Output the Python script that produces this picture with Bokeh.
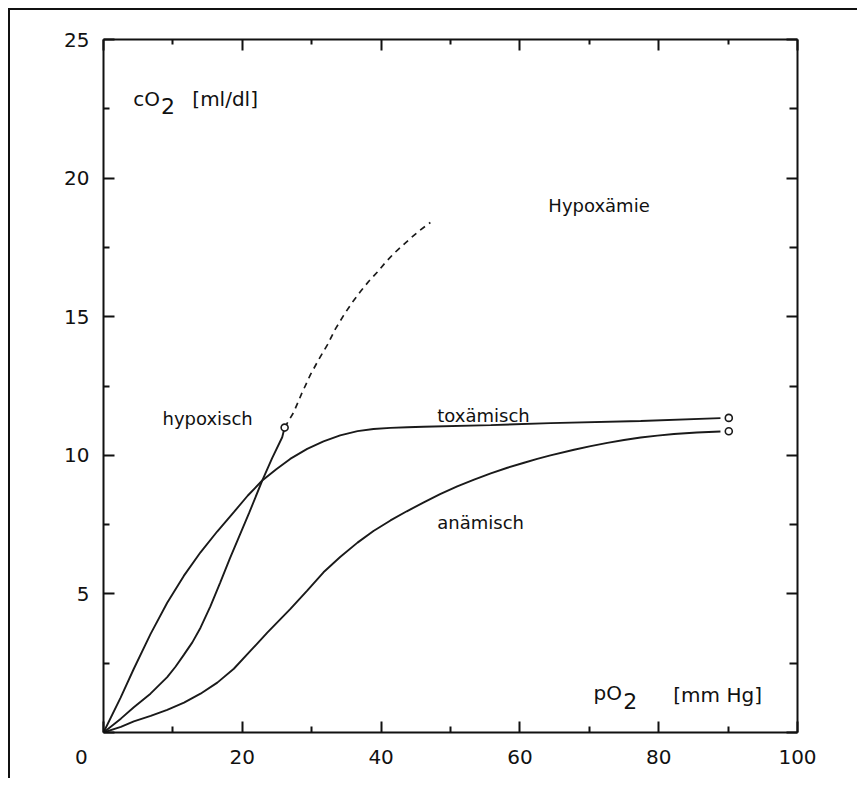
from bokeh.plotting import figure
from bokeh.models import Range1d, FixedTicker, LinearAxis
from bokeh.core.properties import value
from bokeh.embed import file_html
from bokeh.resources import INLINE

# ---- data ----
x_ticks = [0, 20, 40, 60, 80, 100]
x_minor = [10, 30, 50, 70, 90]
y_ticks = [0, 5, 10, 15, 20, 25]
y_minor = [2.5, 7.5, 12.5, 17.5, 22.5]

hyp_x = [0, 2.5, 4.37, 6.77, 9.18, 10.4, 11.57, 12.8, 13.98, 15.4, 16.8, 18.2, 19.6,
         21.0, 22.87, 24.3, 25.75, 26.1]
hyp_y = [0, 0.5, 0.91, 1.40, 2.0, 2.38, 2.8, 3.25, 3.78, 4.55, 5.4, 6.27, 7.1,
         7.93, 9.09, 9.9, 10.65, 11.0]

hyp_dash_x = [26.1, 27.4, 28.6, 29.8, 31.0, 32.3, 33.4, 34.6, 35.8, 37.0, 38.2,
              39.5, 40.6, 41.8, 43.0, 44.2, 45.6, 47.1]
hyp_dash_y = [11.0, 11.55, 12.25, 12.9, 13.45, 14.0, 14.55, 15.05, 15.5, 15.9, 16.27,
              16.62, 16.95, 17.27, 17.55, 17.82, 18.12, 18.4]

tox_x = [0, 2.45, 4.37, 6.77, 9.18, 11.57, 13.98, 16.38, 18.78, 20.8, 22.87, 24.9,
         26.9, 29.35, 31.7, 34.1, 36.6, 38.9, 41.35, 43.8, 46.1, 55.8, 64.4, 77.4, 88.9]
tox_y = [0, 1.25, 2.3, 3.55, 4.68, 5.65, 6.5, 7.25, 7.95, 8.55, 9.09, 9.5,
         9.87, 10.23, 10.5, 10.72, 10.87, 10.95, 10.99, 11.01, 11.03, 11.09, 11.16,
         11.24, 11.34]

ana_x = [0, 2.5, 4.37, 6.8, 9.18, 11.6, 13.98, 16.4, 18.78, 21.2, 23.6, 26.9, 29.35,
         31.7, 34.1, 36.6, 38.9, 41.35, 43.7, 46.15, 48.5, 50.97, 53.4, 55.8, 58.2,
         60.6, 62.5, 64.4, 67.8, 70.2, 72.6, 75.0, 77.4, 79.8, 82.2, 85.5, 88.9]
ana_y = [0, 0.2, 0.40, 0.6, 0.82, 1.08, 1.40, 1.80, 2.3, 2.95, 3.6, 4.45, 5.12,
         5.78, 6.33, 6.85, 7.27, 7.65, 7.98, 8.3, 8.6, 8.88, 9.12, 9.35, 9.55,
         9.73, 9.87, 10.0, 10.2, 10.33, 10.45, 10.55, 10.64, 10.71, 10.77, 10.82, 10.86]

end_x = [26.1, 90.1, 90.1]
end_y = [11.0, 11.35, 10.87]

FONT = "DejaVu Sans"
INK = "#111111"

p = figure(width=849, height=770, output_backend="svg", toolbar_location=None,
           x_range=Range1d(0, 100), y_range=Range1d(0, 25),
           min_border_left=93, min_border_right=62, min_border_top=29,
           min_border_bottom=48)
p.styles = {"margin-left": "8px", "margin-top": "8px",
            "border-left": "2px solid #111111", "border-top": "2px solid #111111"}
p.grid.visible = False
p.outline_line_color = None
p.background_fill_color = "white"
p.border_fill_color = "white"

def style_axis(ax, labels=True):
    ax.axis_line_width = 2
    ax.axis_line_color = INK
    ax.major_tick_in = 11
    ax.major_tick_out = 0
    ax.minor_tick_in = 6
    ax.minor_tick_out = 0
    ax.major_tick_line_width = 2
    ax.minor_tick_line_width = 2
    ax.major_tick_line_color = INK
    ax.minor_tick_line_color = INK
    ax.major_label_text_font = FONT
    ax.major_label_text_font_size = "20px"
    ax.major_label_text_color = INK if labels else None
    ax.major_label_standoff = 14

p.xaxis.ticker = FixedTicker(ticks=x_ticks, minor_ticks=x_minor)
p.yaxis.ticker = FixedTicker(ticks=y_ticks, minor_ticks=y_minor)
# the shared origin "0" sits below-left of the corner: pad it with
# non-breaking spaces so the centred label lands left of the frame
p.xaxis.major_label_overrides = {0: "0" + "\u00a0" * 7}
p.yaxis.major_label_overrides = {0: ""}
style_axis(p.xaxis[0])
style_axis(p.yaxis[0])
p.xaxis.major_label_standoff = 12

top = LinearAxis(ticker=FixedTicker(ticks=x_ticks, minor_ticks=x_minor))
style_axis(top, labels=False)
top.minor_tick_in = 5
p.add_layout(top, "above")
right = LinearAxis(ticker=FixedTicker(ticks=y_ticks, minor_ticks=y_minor))
style_axis(right, labels=False)
right.minor_tick_in = 8
p.add_layout(right, "right")

lc = "#1a1a1a"
p.line(hyp_x, hyp_y, line_width=1.9, line_color=lc)
p.line(hyp_dash_x, hyp_dash_y, line_width=1.7, line_color=lc, line_dash="6 5")
p.line(tox_x, tox_y, line_width=1.9, line_color=lc)
p.line(ana_x, ana_y, line_width=1.9, line_color=lc)
p.scatter(end_x, end_y, marker="circle", size=7, fill_color="white",
          line_color=lc, line_width=1.6)

def txt(x, y, s, size):
    p.text(x=[x], y=[y], text=[s], text_font=value(FONT), text_font_size=size,
           text_color=INK, text_baseline="alphabetic", text_align="left")

txt(8.5, 11.33, "hypoxisch", "18px")
txt(48.1, 11.44, "toxämisch", "18px")
txt(48.1, 7.58, "anämisch", "18px")
txt(64.1, 19.01, "Hypoxämie", "18px")

txt(4.3, 22.87, "cO", "20px")
txt(8.3, 22.6, "2", "22px")
txt(12.8, 22.87, "[ml/dl]", "20px")
txt(70.6, 1.41, "pO", "20px")
txt(74.9, 1.15, "2", "22px")
txt(82.1, 1.37, "[mm Hg]", "20px")

open("out.html", "w").write(file_html(p, INLINE))
